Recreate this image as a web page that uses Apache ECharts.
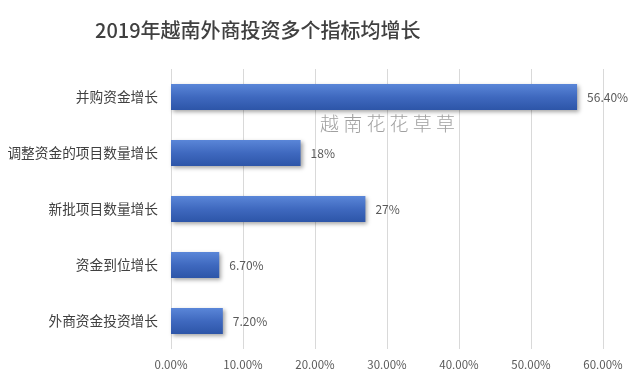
<!DOCTYPE html>
<html><head><meta charset="utf-8">
<script src="https://cdn.jsdelivr.net/npm/echarts@6/dist/echarts.min.js"></script>
<style>html,body{margin:0;padding:0;background:#fff}#c{width:640px;height:391px}</style>
</head><body><div id="c"></div>
<script>
const categories = ['并购资金增长','调整资金的项目数量增长','新批项目数量增长','资金到位增长','外商资金投资增长'];
const values = [56.4, 18, 27, 6.7, 7.2];
const valueLabels = ['56.40%','18%','27%','6.70%','7.20%'];
const titleText = '2019年越南外商投资多个指标均增长';

const chart = echarts.init(document.getElementById('c'));
const font = '"Noto Sans CJK SC", "Noto Sans", sans-serif';
chart.setOption({
  animation: false,
  backgroundColor: '#fff',
  title: {
    text: titleText, left: 95, top: 20, padding: 0,
    textStyle: {fontSize: 20, fontWeight: 500, color: '#404040', fontFamily: font}
  },
  grid: {left: 171, right: 37, top: 69, bottom: 42},
  xAxis: {
    type: 'value', min: 0, max: 60, interval: 10,
    axisLine: {show: false}, axisTick: {show: false},
    splitLine: {lineStyle: {color: '#d9d9d9', width: 1}},
    axisLabel: {formatter: v => v.toFixed(2) + '%', color: '#595959', fontSize: 11.5, fontFamily: font, margin: 10}
  },
  yAxis: {
    type: 'category', data: categories, inverse: true,
    axisLine: {show: false}, axisTick: {show: false},
    axisLabel: {color: '#404040', fontSize: 13.7, fontFamily: font, margin: 13}
  },
  series: [{
    type: 'bar', data: values, barWidth: 26,
    itemStyle: {
      color: new echarts.graphic.LinearGradient(0, 0, 0, 1, [
        {offset: 0, color: '#5a86d8'}, {offset: 0.5, color: '#3f69bf'}, {offset: 1, color: '#2d55a8'}
      ]),
      shadowColor: 'rgba(0,0,0,0.35)', shadowBlur: 4, shadowOffsetX: 2, shadowOffsetY: 2
    },
    label: {
      show: true, position: 'right', distance: 10, color: '#595959', fontSize: 12, fontFamily: font,
      formatter: p => valueLabels[p.dataIndex]
    }
  }],
  graphic: [{
    type: 'text', left: 320, top: 114,
    style: {text: '越 南 花 花 草 草', fill: '#a0a0a0', font: '300 19px "Noto Sans CJK SC", sans-serif'}
  }]
});
</script></body></html>
